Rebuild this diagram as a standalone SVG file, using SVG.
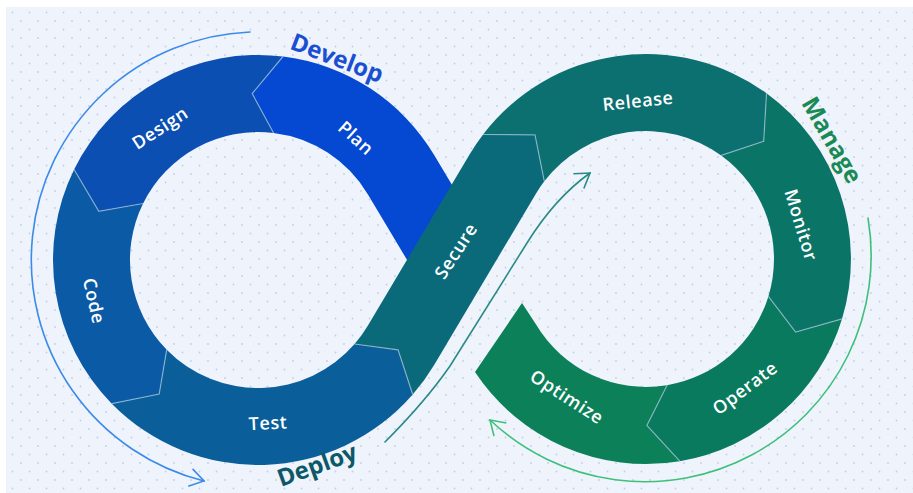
<svg xmlns="http://www.w3.org/2000/svg" width="913" height="493" viewBox="0 0 913 493">
  <defs>
    <pattern id="dots" width="17" height="17" patternUnits="userSpaceOnUse">
      <circle cx="4" cy="4" r="0.9" fill="#c3d0e3"/>
      <circle cx="12.5" cy="12.5" r="0.9" fill="#c3d0e3"/>
    </pattern>
    <marker id="head-blue" viewBox="0 0 20 20" refX="18" refY="10" markerWidth="20" markerHeight="20" markerUnits="userSpaceOnUse" orient="auto">
      <path d="M4,1 L18,10 L4,19" fill="none" stroke="#3d8be8" stroke-width="1.6"/>
    </marker>
    <marker id="head-green" viewBox="0 0 20 20" refX="18" refY="10" markerWidth="20" markerHeight="20" markerUnits="userSpaceOnUse" orient="auto">
      <path d="M4,1 L18,10 L4,19" fill="none" stroke="#3ec07c" stroke-width="1.6"/>
    </marker>
    <marker id="head-teal" viewBox="0 0 20 20" refX="18" refY="10" markerWidth="20" markerHeight="20" markerUnits="userSpaceOnUse" orient="auto">
      <path d="M4,1 L18,10 L4,19" fill="none" stroke="#2a8a86" stroke-width="1.6"/>
    </marker>
  </defs>
  <style>
    .label { font-family: "Open Sans", "Liberation Sans", sans-serif; font-size: 18px; font-weight: 600; fill: #ffffff; text-anchor: middle; letter-spacing: 0.6px; }
    .phase { font-family: "Open Sans", "Liberation Sans", sans-serif; font-size: 24px; font-weight: 700; text-anchor: middle; }
    .divider { fill: none; stroke: #9fc0d6; stroke-opacity: 0.75; stroke-width: 1.2; stroke-linejoin: miter; }
    .arc { fill: none; stroke-width: 1.6; stroke-linecap: round; }
  </style>

  <!-- backdrop -->
  <rect x="0" y="0" width="913" height="493" fill="#ffffff"/>
  <rect x="6" y="7" width="907" height="486" fill="#eef3fc"/>
  <rect x="6" y="7" width="907" height="486" fill="url(#dots)"/>

  <!-- Plan runs under the Secure strand, so it is drawn first -->
  <g id="plan">
    <path fill="#0548d2" d="M490.7,249.7 L434.3,155.3 A205,205 0 0 0 283.0,56.5 L252.2,93.6 L273.6,133.0 A128,128 0 0 1 368.1,194.7 L424.5,289.1 Z"/>
    <text class="label" transform="translate(356,138) rotate(42)" dy="0.35em">Plan</text>
  </g>
  <g id="design">
    <path fill="#0b4fb2" d="M283.0,56.5 A205,205 0 0 0 74.1,169.5 L98.8,211.3 L143.1,203.5 A128,128 0 0 1 273.6,133.0 L252.2,93.6 Z"/>
    <text class="label" transform="translate(160,128) rotate(-33)" dy="0.35em">Design</text>
  </g>
  <g id="code">
    <path fill="#0a5aa6" d="M74.1,169.5 A205,205 0 0 0 111.8,403.7 L159.2,394.0 L166.7,349.7 A128,128 0 0 1 143.1,203.5 L98.8,211.3 Z"/>
    <text class="label" transform="translate(94,301) rotate(77)" dy="0.35em">Code</text>
  </g>
  <g id="test">
    <path fill="#0a5f9a" d="M111.8,403.7 A205,205 0 0 0 412.7,394.5 L398.1,349.9 L354.6,344.0 A128,128 0 0 1 166.7,349.7 L159.2,394.0 Z"/>
    <text class="label" transform="translate(268,423) rotate(-3)" dy="0.35em">Test</text>
  </g>
  <g id="secure">
    <path fill="#0b6a7a" d="M412.7,394.5 A205,205 0 0 0 434.3,364.7 L535.9,193.7 A128,128 0 0 1 544.3,181.3 L535.0,134.9 L483.1,134.5 A205,205 0 0 0 469.7,154.3 L368.1,325.3 A128,128 0 0 1 354.6,344.0 L398.1,349.9 Z"/>
    <text class="label" transform="translate(456,251) rotate(-57)" dy="0.35em">Secure</text>
  </g>
  <g id="release">
    <path fill="#0b706f" d="M483.1,134.5 A205,205 0 0 1 766.5,93.2 L763.7,141.3 L721.2,155.4 A128,128 0 0 0 544.3,181.3 L535.0,134.9 Z"/>
    <text class="label" transform="translate(638,101) rotate(-6)" dy="0.35em">Release</text>
  </g>
  <g id="monitor">
    <path fill="#0a7566" d="M766.5,93.2 A205,205 0 0 1 842.0,318.9 L795.6,332.0 L768.4,296.4 A128,128 0 0 0 721.2,155.4 L763.7,141.3 Z"/>
    <text class="label" transform="translate(801,225) rotate(73)" dy="0.35em">Monitor</text>
  </g>
  <g id="operate">
    <path fill="#0a7a5e" d="M842.0,318.9 A205,205 0 0 1 679.8,461.2 L646.9,425.5 L667.1,385.2 A128,128 0 0 0 768.4,296.4 L795.6,332.0 Z"/>
    <text class="label" transform="translate(745,388) rotate(-37)" dy="0.35em">Operate</text>
  </g>
  <g id="optimize">
    <path fill="#0c8159" d="M679.8,461.2 A205,205 0 0 1 475.0,372.1 L522.0,303.0 L535.9,324.3 A128,128 0 0 0 667.1,385.2 L646.9,425.5 Z"/>
    <text class="label" transform="translate(567,397) rotate(33)" dy="0.35em">Optimize</text>
  </g>

  <!-- chevron seams between stages -->
  <g id="dividers">
    <polyline class="divider" points="283.0,56.5 252.2,93.6 273.6,133.0"/>
    <polyline class="divider" points="74.1,169.5 98.8,211.3 143.1,203.5"/>
    <polyline class="divider" points="111.8,403.7 159.2,394.0 166.7,349.7"/>
    <polyline class="divider" points="412.7,394.5 398.1,349.9 354.6,344.0"/>
    <polyline class="divider" points="483.1,134.5 535.0,134.9 544.3,181.3"/>
    <polyline class="divider" points="766.5,93.2 763.7,141.3 721.2,155.4"/>
    <polyline class="divider" points="842.0,318.9 795.6,332.0 768.4,296.4"/>
    <polyline class="divider" points="679.8,461.2 646.9,425.5 667.1,385.2"/>
  </g>

  <!-- phase arrows -->
  <g id="connectors">
    <path id="develop-arrow" class="arc" stroke="#3d8be8" d="M250,32 A228,228 0 0 0 204,481" marker-end="url(#head-blue)"/>
    <path id="deploy-arrow" class="arc" stroke="#2a8a86" d="M385,442 Q425,402 450,366 L527,243 Q555,198 590,173" marker-end="url(#head-teal)"/>
    <path id="manage-arrow" class="arc" stroke="#3ec07c" d="M868,218 A226,226 0 0 1 490,420" marker-end="url(#head-green)"/>
  </g>

  <g id="phase-labels">
    <text class="phase" fill="#1a4fd1" transform="translate(337,58) rotate(21)" dy="0.35em">Develop</text>
    <text class="phase" fill="#1a8a55" transform="translate(832,140) rotate(60)" dy="0.35em">Manage</text>
    <text class="phase" fill="#0d5868" transform="translate(317,465) rotate(-20)" dy="0.35em">Deploy</text>
  </g>
</svg>
